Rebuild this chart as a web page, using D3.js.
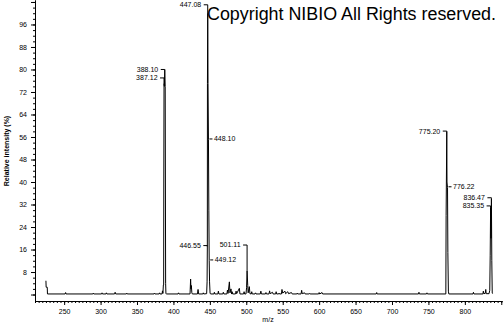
<!DOCTYPE html>
<html>
<head>
<meta charset="utf-8">
<script src="https://cdn.jsdelivr.net/npm/d3@7"></script>
<style>
  body { margin: 0; background: #fff; }
  text { font-family: "Liberation Sans", Arial, sans-serif; }
</style>
</head>
<body>
<div id="chart"></div>
<script>
// profile spectrum, m/z and relative intensity (%)
let specMz = [
    225.0, 225.3, 226.8, 227.1,
    251.4, 252.0, 252.6,
    289.4, 290.0, 290.6,
    301.4, 302.0, 302.6,
    307.4, 308.0, 308.6,
    319.2, 320.0, 320.8,
    335.4, 336.0, 336.6,
    373.4, 374.0, 374.6,
    380.4, 381.0, 381.6,
    384.4, 385.0, 385.6,
    386.2, 386.6, 386.8, 387.12, 387.6, 388.1, 388.7, 389.3, 389.7, 390.2,
    406.4, 407.0, 407.6,
    422.8, 423.6, 424.1, 424.6, 425.3, 426.0,
    433.0, 433.8, 434.6,
    440.4, 441.0, 441.6,
    445.6, 446.2, 446.55, 446.7, 447.08, 447.5, 448.1, 448.6, 449.12, 449.6, 450.3, 451.0,
    455.6, 456.2, 456.8,
    461.0, 461.7, 462.4,
    467.8, 468.5, 469.2,
    473.4, 474.2, 475.0, 476.8, 477.6, 479.0, 479.8,
    480.0, 480.6, 481.3,
    485.2, 486.0, 486.8, 490.5, 491.3,
    496.3, 497.0, 497.7,
    499.6, 500.4, 501.11, 502.0, 502.6, 504.2, 505.0,
    506.8, 507.5, 508.2,
    512.0, 512.7, 513.4,
    519.2, 520.0, 520.8,
    526.3, 527.0, 527.7,
    531.2, 532.0, 532.8, 536.0, 536.8,
    540.3, 541.0, 541.7,
    544.4, 545.0, 545.6,
    548.2, 549.0, 550.0, 553.0, 554.0, 557.0, 558.0, 562.0, 563.0,
    569.4, 570.0, 570.6,
    575.2, 576.0, 576.8, 580.0, 580.8,
    586.4, 587.0, 587.6,
    599.3, 600.0, 600.8, 604.0, 604.8,
    678.4, 679.0, 679.6,
    736.4, 737.0, 737.6,
    747.4, 748.0, 748.6,
    773.9, 774.3, 775.2, 775.5, 776.22, 776.7, 777.4, 778.0,
    811.2, 811.8, 812.4,
    824.8, 825.4, 826.0, 828.0, 828.7, 829.3,
    833.2, 834.2, 834.8, 835.35, 835.9, 836.47, 837.0, 837.6, 838.2
]
let specInt = [
    4.9, 2.6, 2.6, 0.2,
    0.2, 0.7, 0.2,
    0.2, 0.5, 0.2,
    0.2, 0.6, 0.2,
    0.2, 0.6, 0.2,
    0.2, 0.8, 0.2,
    0.2, 0.5, 0.2,
    0.2, 0.5, 0.2,
    0.2, 0.6, 0.2,
    0.2, 1.3, 0.4,
    3.4, 3.4, 40, 75, 74, 80, 74, 4, 0.4, 0.2,
    0.2, 0.6, 0.2,
    0.2, 5.5, 2.0, 3.2, 0.6, 0.2,
    0.2, 1.8, 0.2,
    0.2, 0.6, 0.2,
    0.3, 4.5, 17, 75, 100, 75, 55, 30, 12, 4.5, 0.5, 0.2,
    0.2, 0.8, 0.2,
    0.2, 1.2, 0.2,
    0.2, 0.8, 0.2,
    0.2, 1.6, 0.4, 4.5, 0.6, 2.0, 0.2,
    0.2, 1.0, 0.2,
    0.2, 1.2, 0.3, 2.2, 0.2,
    0.2, 1.0, 0.2,
    0.2, 2.4, 8.4, 3.2, 0.6, 2.8, 0.3,
    0.2, 1.0, 0.2,
    0.2, 0.6, 0.2,
    0.2, 1.2, 0.2,
    0.2, 0.7, 0.2,
    0.2, 1.3, 0.3, 0.8, 0.2,
    0.2, 1.0, 0.2,
    0.2, 0.5, 0.2,
    0.2, 1.8, 0.5, 1.2, 0.3, 1.0, 0.3, 0.7, 0.2,
    0.2, 0.5, 0.2,
    0.2, 1.5, 0.3, 0.6, 0.2,
    0.2, 0.4, 0.2,
    0.2, 0.7, 0.2, 0.7, 0.2,
    0.2, 0.7, 0.2,
    0.2, 0.8, 0.2,
    0.2, 0.6, 0.2,
    0.2, 28, 58, 40, 38, 15, 1.2, 0.2,
    0.2, 0.8, 0.2,
    0.2, 1.2, 0.3, 0.4, 1.8, 0.3,
    0.3, 1.5, 14, 31, 20, 34, 12, 0.5, 0.3
]

// peak annotations
let labelMz = [388.10, 387.12, 447.08, 448.10, 446.55, 449.12, 501.11, 775.20, 776.22, 836.47, 835.35]
let labelLevel = [80, 77, 103, 55.3, 17.4, 12.3, 17.6, 58.1, 38.3, 34.4, 31.5]
let labelSide = ['l', 'l', 'l', 'r', 'l', 'r', 'l', 'l', 'r', 'l', 'l']

let yMajorTicks = [0, 8, 16, 24, 32, 40, 48, 56, 64, 72, 80, 88, 96, 104]
let xMajorTicks = [250, 300, 350, 400, 450, 500, 550, 600, 650, 700, 750, 800, 850]

let svgWidth = 504
let svgHeight = 325
let padding = { 'left': 35, 'right': 2, 'top': 0, 'bottom': 24 }

let svg = d3.select('#chart').append('svg')
    .attr('width', svgWidth)
    .attr('height', svgHeight)

let x = d3.scaleLinear()
    .domain([210, 851])
    .range([padding.left, svgWidth - padding.right])
let y = d3.scaleLinear()
    .domain([-2.3, 104.7])
    .range([svgHeight - padding.bottom, padding.top])

let yMinor = d3.range(0, 105, 2)
let xMinor = d3.range(210, 851, 5)

// y axis
svg.append('g')
    .attr('transform', `translate(${padding.left}, 0)`)
    .call(d3.axisLeft(y).tickValues(yMinor).tickSize(2).tickSizeOuter(0).tickFormat(''))
svg.append('g')
    .attr('transform', `translate(${padding.left}, 0)`)
    .call(d3.axisLeft(y).tickValues(yMajorTicks).tickSize(4).tickSizeOuter(0).tickPadding(4)
        .tickFormat(d => (d > 0 && d < 100) ? d : ''))
    .attr('font-size', 7)

// x axis
svg.append('g')
    .attr('transform', `translate(0, ${svgHeight - padding.bottom})`)
    .call(d3.axisBottom(x).tickValues(xMinor).tickSize(2).tickSizeOuter(0).tickFormat(''))
svg.append('g')
    .attr('transform', `translate(0, ${svgHeight - padding.bottom})`)
    .call(d3.axisBottom(x).tickValues(xMajorTicks).tickSize(4).tickSizeOuter(0).tickPadding(4)
        .tickFormat(d => d < 850 ? d : ''))
    .attr('font-size', 7)

svg.selectAll('.domain, .tick line').attr('stroke', '#000')
svg.selectAll('.tick text').attr('fill', '#000').attr('font-family', '"Liberation Sans", Arial, sans-serif')

// axis titles
svg.append('text')
    .attr('x', 268)
    .attr('y', 322)
    .attr('text-anchor', 'middle')
    .attr('font-size', 7)
    .text('m/z')
svg.append('text')
    .attr('transform', 'translate(9, 151) rotate(-90)')
    .attr('text-anchor', 'middle')
    .attr('font-size', 7)
    .attr('font-weight', 'bold')
    .text('Relative intensity (%)')

// spectrum
let pts = specMz.map((m, i) => [m, specInt[i]])
let line = d3.line()
    .x(d => x(d[0]))
    .y(d => y(d[1]))
svg.append('path')
    .datum(pts)
    .attr('d', line)
    .attr('fill', 'none')
    .attr('stroke', '#000')
    .attr('stroke-width', 1)

// peak labels
let peakTop = m => {
    let i = specMz.findIndex(v => Math.abs(v - m) < 0.02)
    return i >= 0 ? specInt[i] : 0
}
let ann = svg.append('g')
labelMz.forEach((m, i) => {
    let px = x(m)
    let ly = y(labelLevel[i])
    if (labelSide[i] == 'l') {
        ann.append('line')
            .attr('x1', px - 4).attr('x2', px)
            .attr('y1', ly).attr('y2', ly)
            .attr('stroke', '#000')
        ann.append('line')
            .attr('x1', px).attr('x2', px)
            .attr('y1', ly).attr('y2', y(peakTop(m)))
            .attr('stroke', '#000')
        ann.append('text')
            .attr('x', px - 6.5)
            .attr('y', ly)
            .attr('dy', '0.35em')
            .attr('text-anchor', 'end')
            .attr('font-size', 7)
            .text(m.toFixed(2))
    } else {
        ann.append('line')
            .attr('x1', px + 1).attr('x2', px + 4)
            .attr('y1', ly).attr('y2', ly)
            .attr('stroke', '#000')
        ann.append('text')
            .attr('x', px + 5.5)
            .attr('y', ly)
            .attr('dy', '0.35em')
            .attr('font-size', 7)
            .text(m.toFixed(2))
    }
})

// watermark
svg.append('text')
    .attr('x', 207)
    .attr('y', 20)
    .attr('font-size', 18)
    .attr('textLength', 289)
    .attr('lengthAdjust', 'spacingAndGlyphs')
    .text('Copyright NIBIO All Rights reserved.')
</script>
</body>
</html>
